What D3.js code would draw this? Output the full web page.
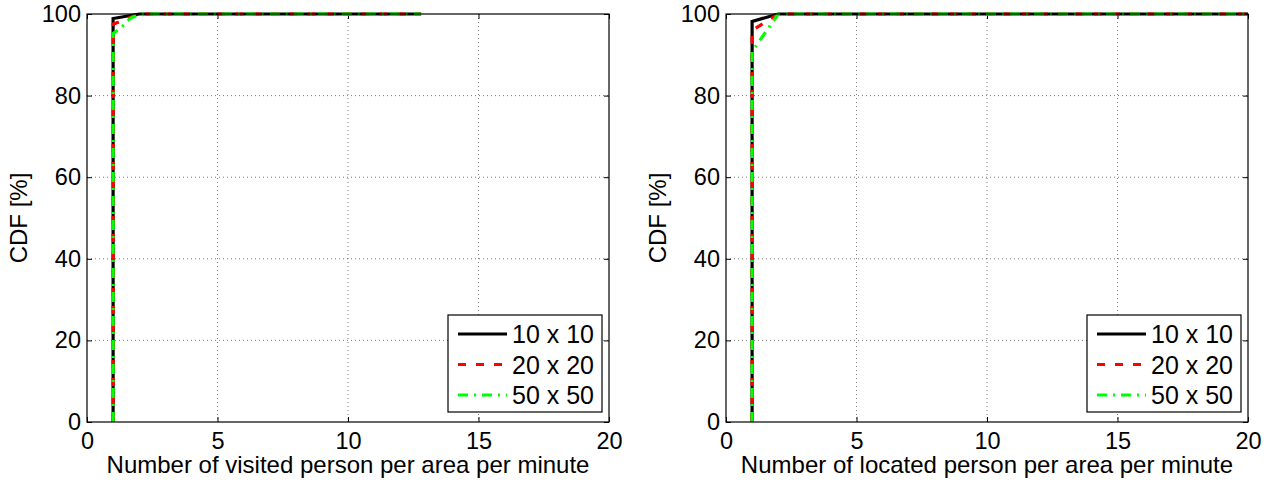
<!DOCTYPE html>
<html><head><meta charset="utf-8">
<script src="https://cdn.jsdelivr.net/npm/d3@7"></script>
<style>body{margin:0;background:#fff;} svg{display:block;} text{font-family:"Liberation Sans",Arial,Helvetica,sans-serif;}</style>
</head><body>
<svg id="c" width="1274" height="483"></svg>
<script>
const xTicks = [0,5,10,15,20];
const yTicks = [0,20,40,60,80,100];
const seriesNames = ["10 x 10","20 x 20","50 x 50"];
const seriesColors = ["#000000","#ff0000","#00ff00"];
const seriesDash = [null,"8,10","10,6,2,6"];

// Left panel: visited
const visitedX10 = [1,1,2,12.8];
const visitedY10 = [0,98.9,100,100];
const visitedX20 = [1,1,2,12.8];
const visitedY20 = [0,97.5,100,100];
const visitedX50 = [1,1,1.3,1.65,2,12.8];
const visitedY50 = [0,95.2,96.6,98.9,100,100];

// Right panel: located
const locatedX10 = [1,1,2,20];
const locatedY10 = [0,98.2,100,100];
const locatedX20 = [1,1,2,20];
const locatedY20 = [0,96,100,100];
const locatedX50 = [1,1,2,20];
const locatedY50 = [0,90.8,100,100];

const panels = [
  {left:87, right:609, xlabel:"Number of visited person per area per minute",
   series:[[visitedX10,visitedY10],[visitedX20,visitedY20],[visitedX50,visitedY50]]},
  {left:726, right:1248, xlabel:"Number of located person per area per minute",
   series:[[locatedX10,locatedY10],[locatedX20,locatedY20],[locatedX50,locatedY50]]}
];
const plotTop=14, plotBottom=422;
const svg = d3.select("#c");
const TFS = 23.5, LFS = 24, GFS = 25;

panels.forEach((p,pi)=>{
  const x = d3.scaleLinear().domain([0,20]).range([p.left,p.right]);
  const y = d3.scaleLinear().domain([0,100]).range([plotBottom,plotTop]);
  const g = svg.append("g");
  const clipId = "clip"+pi;
  g.append("clipPath").attr("id",clipId).append("rect")
    .attr("x",p.left).attr("y",plotTop-3).attr("width",p.right-p.left).attr("height",plotBottom-plotTop+3);
  // grid
  xTicks.slice(1,-1).forEach(t=>{
    g.append("line").attr("x1",x(t)).attr("x2",x(t)).attr("y1",plotTop).attr("y2",plotBottom)
      .attr("stroke","#444").attr("stroke-width",0.7).attr("stroke-dasharray","1,3");
  });
  yTicks.slice(1,-1).forEach(t=>{
    g.append("line").attr("y1",y(t)).attr("y2",y(t)).attr("x1",p.left).attr("x2",p.right)
      .attr("stroke","#444").attr("stroke-width",0.7).attr("stroke-dasharray","1,3");
  });
  // axes
  const xb = g.append("g").attr("transform",`translate(0,${plotBottom})`)
    .call(d3.axisBottom(x).tickValues(xTicks).tickSize(-5).tickPadding(10));
  const xt = g.append("g").attr("transform",`translate(0,${plotTop})`)
    .call(d3.axisTop(x).tickValues(xTicks).tickSize(-5).tickFormat(""));
  const yl = g.append("g").attr("transform",`translate(${p.left},0)`)
    .call(d3.axisLeft(y).tickValues(yTicks).tickSize(-5).tickPadding(6));
  const yr = g.append("g").attr("transform",`translate(${p.right},0)`)
    .call(d3.axisRight(y).tickValues(yTicks).tickSize(-5).tickFormat(""));
  [xb,xt,yl,yr].forEach(a=>{
    a.select(".domain").remove();
    a.selectAll("line").attr("stroke","#000");
    a.selectAll("text").attr("font-size",TFS).attr("fill","#000").style("font-family","'Liberation Sans',Arial,sans-serif");
  });
  xb.selectAll("text").attr("dy","0.71em");
  // data lines
  const lineGen = d3.line().x(d=>x(d[0])).y(d=>y(d[1]));
  p.series.forEach((s,si)=>{
    const pts = s[0].map((v,i)=>[v,s[1][i]]);
    g.append("path").attr("d",lineGen(pts)).attr("fill","none")
      .attr("stroke",seriesColors[si]).attr("stroke-width",3.2)
      .attr("stroke-dasharray",seriesDash[si]).attr("clip-path",`url(#${clipId})`);
  });
  // box
  g.append("rect").attr("x",p.left).attr("y",plotTop).attr("width",p.right-p.left).attr("height",plotBottom-plotTop)
    .attr("fill","none").attr("stroke","#000").attr("stroke-width",1.2);
  // labels
  g.append("text").attr("x",(p.left+p.right)/2).attr("y",473).attr("text-anchor","middle")
    .attr("font-size",LFS).text(p.xlabel);
  g.append("text").attr("transform",`translate(${p.left-60},${(plotTop+plotBottom)/2}) rotate(-90)`)
    .attr("text-anchor","middle").attr("font-size",LFS).text("CDF [%]");
  // legend
  const lx = p.right-161, ly = 315, lw = 154, lh = 97;
  const lg = g.append("g");
  lg.append("rect").attr("x",lx).attr("y",ly).attr("width",lw).attr("height",lh)
    .attr("fill","#fff").attr("stroke","#000").attr("stroke-width",1.2);
  seriesNames.forEach((n,si)=>{
    const cy = ly+19+si*30.5;
    lg.append("line").attr("x1",lx+10).attr("x2",lx+59).attr("y1",cy).attr("y2",cy)
      .attr("stroke",seriesColors[si]).attr("stroke-width",3.2).attr("stroke-dasharray",seriesDash[si]);
    lg.append("text").attr("x",lx+64).attr("y",cy).attr("dy","0.36em").attr("font-size",GFS).text(n);
  });
});
</script>
</body></html>
